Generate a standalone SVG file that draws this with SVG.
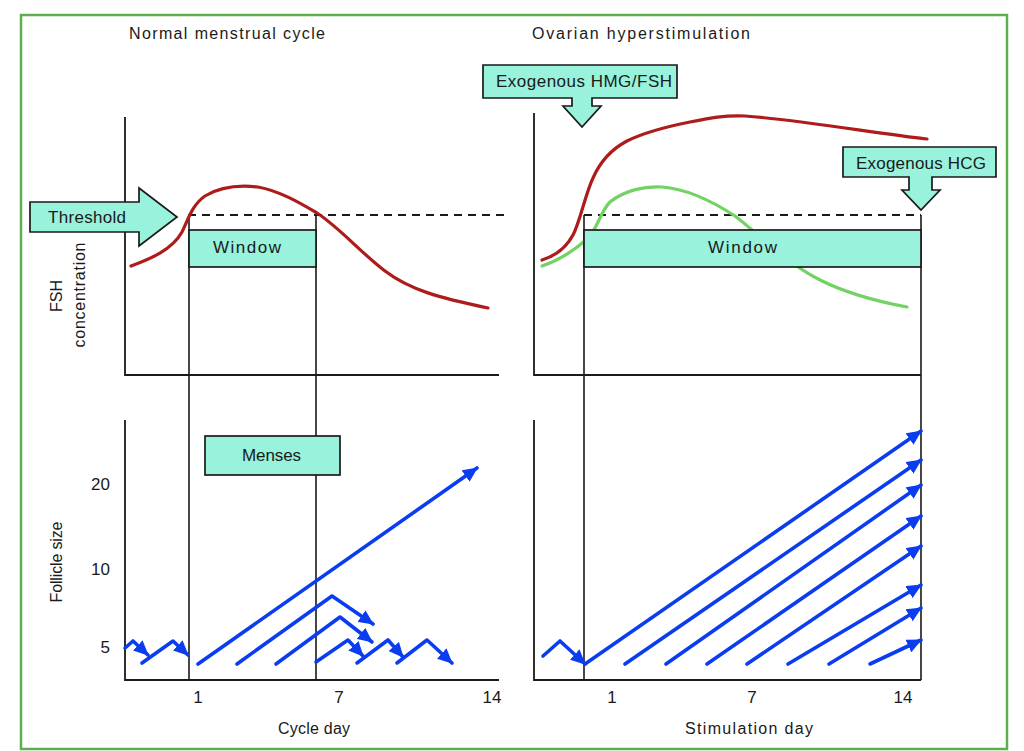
<svg xmlns="http://www.w3.org/2000/svg" width="1024" height="751" viewBox="0 0 1024 751">
<defs>
<style>
.t{font-family:"Liberation Sans",Arial,sans-serif;font-size:16px;fill:#1a1a1a}
.b{font-size:17px}
.ax{stroke:#1a1a1a;stroke-width:1.8;fill:none}
.vl{stroke:#1a1a1a;stroke-width:1.6;fill:none}
.box{fill:#98f2dc;stroke:#1a1a1a;stroke-width:1.7}
.dash{stroke:#1a1a1a;stroke-width:1.8;stroke-dasharray:8,6;fill:none}
.bl{stroke:#0b3df0;stroke-width:3.6;fill:none;stroke-linecap:round;stroke-linejoin:round;marker-end:url(#ah)}
.red{stroke:#ad1b1b;stroke-width:3.2;fill:none;stroke-linecap:round}
.grn{stroke:#72d263;stroke-width:3.2;fill:none;stroke-linecap:round}
</style>
<marker id="ah" markerUnits="userSpaceOnUse" markerWidth="15" markerHeight="14" viewBox="0 0 15 14" refX="14" refY="7" orient="auto">
<path d="M0,0 L15,7 L0,14 z" fill="#0b3df0"/>
</marker>
</defs>
<rect width="1024" height="751" fill="#fff"/>
<rect id="frame" x="21" y="15" width="986" height="734" fill="none" stroke="#5cb04c" stroke-width="2.5"/>

<g id="titles">
<text class="t" x="129" y="39" textLength="196">Normal menstrual cycle</text>
<text class="t" x="532" y="39" textLength="218">Ovarian hyperstimulation</text>
</g>

<g id="axes">
<path class="ax" d="M125,117 V375 H499"/>
<path class="ax" d="M125,420 V680 H499"/>
<path class="ax" d="M534,113 V375 H921"/>
<path class="ax" d="M534,420 V680 H921"/>
<path class="vl" d="M189,215 V680 M316,215 V680 M584,215 V680 M921,215 V680"/>
<path class="dash" d="M188,215 H506 M584,215 H921"/>
</g>

<g id="curves">
<path class="red" d="M131,266 C150,259 172,250 182,232 C188,220 192,205 205,196 C220,187 240,185 258,187 C280,191 300,203 317,213 C340,228 360,252 385,271 C410,290 440,298 488,308"/>
<path class="grn" d="M542,266 C560,260 575,250 588,238 C598,228 600,212 610,202 C625,190 645,186 662,187 C690,189 715,203 735,216 C760,235 785,262 820,280 C850,295 880,302 907,307"/>
<path class="red" d="M542,260 C555,256 566,248 573,235 C580,222 585,195 593,178 C600,162 610,150 627,141 C645,132 670,126 690,122 C710,118 725,115 745,116 C800,120 880,134 927,139"/>
</g>

<g id="window-left">
<rect class="box" x="189" y="230" width="127" height="37"/>
<text class="t b" x="213" y="253" textLength="68">Window</text>
</g>
<g id="window-right">
<rect class="box" x="584" y="230" width="337" height="37"/>
<text class="t b" x="708" y="253" textLength="69">Window</text>
</g>

<g id="threshold">
<polygon class="box" points="30,202 139,202 139,188 177,217 139,246 139,232 30,232"/>
<text class="t b" x="48" y="223" textLength="78">Threshold</text>
</g>

<g id="hmg">
<polygon class="box" points="483,65 677,65 677,98 592,98 592,106 601,106 582,127 563,106 572,106 572,98 483,98"/>
<text class="t b" x="496" y="87" textLength="176">Exogenous HMG/FSH</text>
</g>

<g id="hcg">
<polygon class="box" points="843,147 996,147 996,177 932,177 932,190 940,190 921,210 902,190 909,190 909,177 843,177"/>
<text class="t b" x="856" y="169" textLength="130">Exogenous HCG</text>
</g>

<g id="menses">
<rect class="box" x="205" y="436" width="135" height="39"/>
<text class="t b" x="242" y="461" textLength="59">Menses</text>
</g>

<g id="labels">
<text class="t" transform="translate(62,296) rotate(-90)" text-anchor="middle">FSH</text>
<text class="t" transform="translate(85,295) rotate(-90)" text-anchor="middle" textLength="105">concentration</text>
<text class="t" transform="translate(62,562) rotate(-90)" text-anchor="middle" textLength="81">Follicle size</text>
<text class="t b" x="110" y="490" text-anchor="end">20</text>
<text class="t b" x="110" y="575" text-anchor="end">10</text>
<text class="t b" x="110" y="653" text-anchor="end">5</text>
<text class="t b" x="198" y="703" text-anchor="middle">1</text>
<text class="t b" x="339" y="703" text-anchor="middle">7</text>
<text class="t b" x="492" y="703" text-anchor="middle">14</text>
<text class="t b" x="612" y="703" text-anchor="middle">1</text>
<text class="t b" x="752" y="703" text-anchor="middle">7</text>
<text class="t b" x="903" y="703" text-anchor="middle">14</text>
<text class="t" x="278" y="734" textLength="72">Cycle day</text>
<text class="t" x="685" y="734" textLength="128">Stimulation day</text>
</g>

<g id="follicles">
<polyline class="bl" points="125,648 133,641 148,655"/>
<polyline class="bl" points="142,663 173,641 188,655"/>
<polyline class="bl" points="198,664 477,468"/>
<polyline class="bl" points="237,664 332,596 373,624"/>
<polyline class="bl" points="276,664 340,617 372,642"/>
<polyline class="bl" points="316,662 348,640 363,656"/>
<polyline class="bl" points="357,663 388,640 403,657"/>
<polyline class="bl" points="397,663 427,640 452,663"/>
<polyline class="bl" points="543,656 560,641 585,664"/>
<polyline class="bl" points="585,664 921,431"/>
<polyline class="bl" points="625,664 921,460"/>
<polyline class="bl" points="666,664 921,485"/>
<polyline class="bl" points="707,664 921,516"/>
<polyline class="bl" points="747,664 921,546"/>
<polyline class="bl" points="788,664 921,585"/>
<polyline class="bl" points="829,664 921,608"/>
<polyline class="bl" points="870,664 921,640"/>
</g>
</svg>
